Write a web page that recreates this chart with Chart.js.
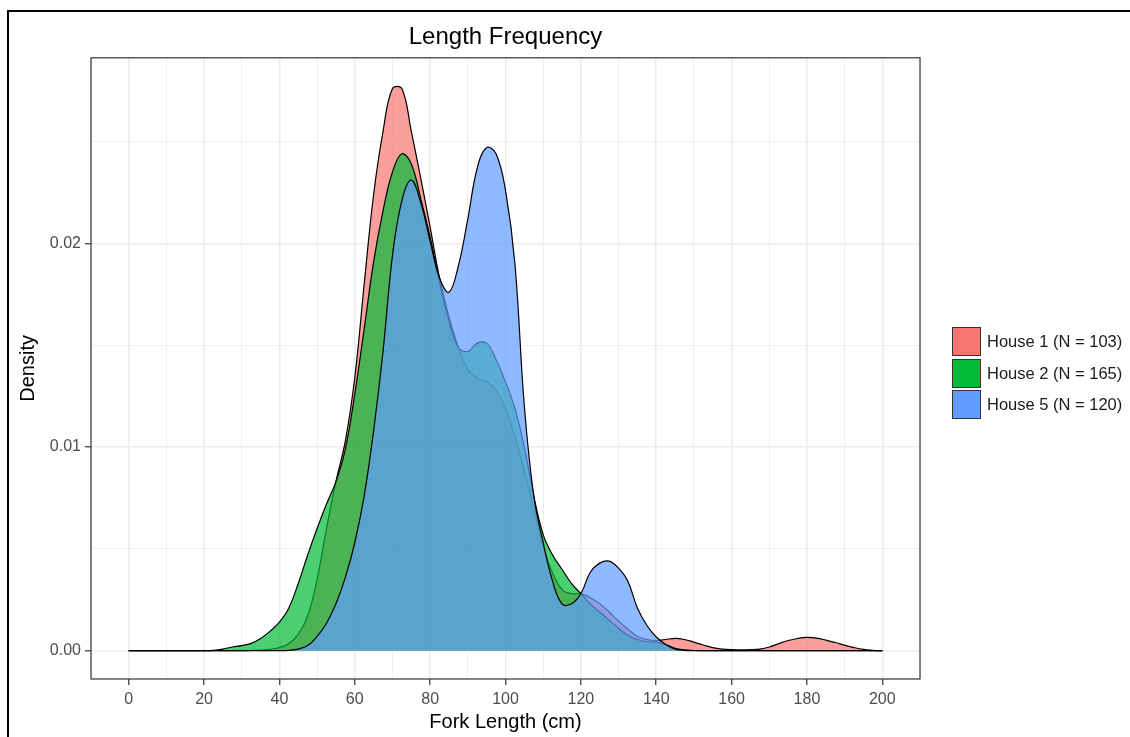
<!DOCTYPE html>
<html lang="en">
  <head>
    <meta charset="UTF-8">
    <title>Length Frequency</title>
    <style>
      html, body {
        margin: 0;
        padding: 0;
        background: #fff;
        overflow: hidden;
      }
      #frame {
        position: absolute;
        left: 7px;
        top: 10px;
        width: 1200px;
        height: 800px;
        border-left: 2px solid #000;
        border-top: 2px solid #000;
      }
      #myChart {
        position: absolute;
        left: 0;
        top: 0;
      }
      #legend {
        position: absolute;
        left: 952px;
        top: 327px;
        font-family: "Liberation Sans", Arial, sans-serif;
        font-size: 16.5px;
        color: #1a1a1a;
      }
      .item {
        display: flex;
        align-items: center;
        height: 29px;
        margin-bottom: 2.5px;
      }
      .key {
        width: 29px;
        height: 29px;
        box-sizing: border-box;
        border: 1.3px solid #333;
        margin-right: 6px;
      }
    </style>
  </head>
  <body>
    <div id="frame"></div>
    <canvas id="myChart" width="1130" height="737"></canvas>
    <div id="legend"></div>

    <script src="https://cdn.jsdelivr.net/npm/chart.js"></script>
    <script>
      // fork length (cm) where the density curves were read
      const forkLength = [0, 10, 20, 22.5, 25, 27.5, 30, 32.5, 35, 37.5, 40, 42.5, 45, 47.5, 50, 52.5, 55, 57.5,
        60, 62.5, 65, 67.5, 70, 72.5, 75, 77.5, 80, 82.5, 85, 87.5, 90, 92.5, 95, 97.5, 100, 102.5, 105, 107.5,
        110, 112.5, 115, 117.5, 120, 122.5, 125, 127.5, 130, 132.5, 135, 137.5, 140, 142.5, 145, 147.5, 150,
        152.5, 155, 157.5, 160, 162.5, 165, 167.5, 170, 172.5, 175, 177.5, 180, 182.5, 185, 187.5, 190, 192.5,
        195, 197.5, 200];

      const house1 = [0, 0, 0, 0, 0, 0, 0, 0.00001, 0.00003, 0.00007, 0.00015, 0.00035, 0.0008, 0.0017, 0.0035,
        0.006, 0.0083, 0.0103, 0.0134, 0.018, 0.0224, 0.0255, 0.0276, 0.0276, 0.0255, 0.0232, 0.0208, 0.0183,
        0.0164, 0.0149, 0.0138, 0.0134, 0.0132, 0.0128, 0.0119, 0.0105, 0.0088, 0.007, 0.0051, 0.0038, 0.003,
        0.0028, 0.0028, 0.0026, 0.0023, 0.0019, 0.00145, 0.00105, 0.0007, 0.00055, 0.0005, 0.00055, 0.0006,
        0.00055, 0.00042, 0.00028, 0.00015, 0.00008, 0.00005, 0.00004, 0.00005, 0.00008, 0.00018, 0.00035,
        0.0005, 0.0006, 0.00065, 0.00062, 0.00052, 0.0004, 0.00027, 0.00015, 0.00006, 0.00002, 0];

      const house2 = [0, 0, 0, 0.00002, 0.00008, 0.00018, 0.00025, 0.00036, 0.0006, 0.00095, 0.0014, 0.0021,
        0.0033, 0.0047, 0.006, 0.0072, 0.0083, 0.0099, 0.0126, 0.0158, 0.0191, 0.0216, 0.0235, 0.0244, 0.0239,
        0.0222, 0.0203, 0.0181, 0.0162, 0.0149, 0.0147, 0.0151, 0.0151, 0.0143, 0.0132, 0.0119, 0.01, 0.0076,
        0.0057, 0.0047, 0.004, 0.0033, 0.0028, 0.0023, 0.0019, 0.0015, 0.0011, 0.00075, 0.00055, 0.00045,
        0.00042, 0.0003, 0.00012, 0.00004, 0.00001, 0, 0, 0, 0, 0, 0, 0, 0, 0, 0, 0, 0, 0, 0, 0, 0, 0, 0, 0, 0];

      const house5 = [0, 0, 0, 0, 0, 0, 0, 0, 0, 0, 0, 0.00002, 0.00008, 0.00025, 0.0007, 0.00135, 0.0023,
        0.0036, 0.0053, 0.0076, 0.0108, 0.0147, 0.0194, 0.0221, 0.0231, 0.022, 0.0201, 0.0183, 0.0176, 0.0189,
        0.0212, 0.0237, 0.0247, 0.0244, 0.0226, 0.019, 0.012, 0.0076, 0.0053, 0.0034, 0.0023, 0.0023, 0.0028,
        0.00385, 0.0043, 0.0044, 0.00405, 0.0034, 0.0021, 0.00125, 0.00067, 0.0003, 0.00008, 0.00002, 0, 0, 0,
        0, 0, 0, 0, 0, 0, 0, 0, 0, 0, 0, 0, 0, 0, 0, 0, 0, 0];

      const seriesNames = ["House 1 (N = 103)", "House 2 (N = 165)", "House 5 (N = 120)"];
      const seriesColors = ["#F8766D", "#00BA38", "#619CFF"];
      const seriesFills = ["rgba(248, 118, 109, 0.7)", "rgba(0, 186, 56, 0.7)", "rgba(97, 156, 255, 0.7)"];
      const xTicks = [0, 20, 40, 60, 80, 100, 120, 140, 160, 180, 200];
      const yTicks = [0, 0.01, 0.02];

      const FONT = "'Liberation Sans', Arial, sans-serif";

      function toPoints(values) {
        return values.map((v, i) => ({ x: forkLength[i], y: v }));
      }

      function isMajorX(v) {
        return xTicks.includes(Math.round(v * 1000) / 1000);
      }
      function isMajorY(v) {
        return yTicks.some(t => Math.abs(t - v) < 1e-9);
      }

      const panelBorder = {
        id: "panelBorder",
        afterDatasetsDraw(chart) {
          const { ctx, chartArea: a } = chart;
          ctx.save();
          ctx.strokeStyle = "#333333";
          ctx.lineWidth = 1.2;
          ctx.strokeRect(a.left, a.top, a.right - a.left, a.bottom - a.top);
          ctx.restore();
        }
      };

      const allSeries = [house1, house2, house5];
      const datasets = allSeries.map((values, i) => ({
        label: seriesNames[i],
        data: toPoints(values),
        borderColor: "#000",
        borderWidth: 1.2,
        backgroundColor: seriesFills[i],
        fill: "origin",
        pointRadius: 0,
        tension: 0.4,
        order: 3 - i
      }));

      const ctx = document.getElementById("myChart").getContext("2d");
      const chart = new Chart(ctx, {
        type: "line",
        data: { datasets: datasets },
        plugins: [panelBorder],
        options: {
          responsive: false,
          animation: false,
          layout: {
            padding: { left: 10, right: 210, top: 0, bottom: 0 }
          },
          plugins: {
            legend: { display: false },
            tooltip: { enabled: false },
            title: {
              display: true,
              fullSize: false,
              text: "Length Frequency",
              color: "#000",
              font: { family: FONT, size: 24, weight: "normal" },
              padding: { top: 23, bottom: 6 }
            }
          },
          scales: {
            x: {
              type: "linear",
              min: -10,
              max: 210,
              afterFit: s => { s.height = 58; },
              border: { display: false },
              grid: {
                color: "#ebebeb",
                lineWidth: c => (isMajorX(c.tick.value) ? 1.5 : 0.8),
                tickLength: 6,
                tickWidth: 1.2,
                tickColor: c => (isMajorX(c.tick.value) ? "#333333" : "rgba(0,0,0,0)")
              },
              ticks: {
                stepSize: 10,
                autoSkip: false,
                maxRotation: 0,
                includeBounds: false,
                padding: 5,
                color: "#4d4d4d",
                font: { family: FONT, size: 16 },
                callback: v => (isMajorX(v) ? String(v) : "")
              },
              title: {
                display: true,
                text: "Fork Length (cm)",
                color: "#000",
                font: { family: FONT, size: 20 },
                padding: { top: 0, bottom: 3 }
              }
            },
            y: {
              type: "linear",
              min: -0.00139,
              max: 0.02911,
              afterFit: s => { s.width = 81; },
              border: { display: false },
              grid: {
                color: "#ebebeb",
                lineWidth: c => (isMajorY(c.tick.value) ? 1.5 : 0.8),
                tickLength: 6,
                tickWidth: 1.2,
                tickColor: c => (isMajorY(c.tick.value) ? "#333333" : "rgba(0,0,0,0)")
              },
              ticks: {
                stepSize: 0.005,
                autoSkip: false,
                includeBounds: false,
                padding: 4,
                color: "#4d4d4d",
                font: { family: FONT, size: 16 },
                callback: v => (isMajorY(v) ? v.toFixed(2) : "")
              },
              title: {
                display: true,
                text: "Density",
                color: "#000",
                font: { family: FONT, size: 20 },
                padding: { top: 6.5, bottom: 0 }
              }
            }
          }
        }
      });

      // legend drawn as html, same order as the datasets
      const legendEl = document.getElementById("legend");
      seriesNames.forEach((name, i) => {
        const item = document.createElement("div");
        item.className = "item";
        const key = document.createElement("div");
        key.className = "key";
        key.style.background = seriesColors[i];
        const text = document.createElement("span");
        text.textContent = name;
        item.appendChild(key);
        item.appendChild(text);
        legendEl.appendChild(item);
      });
    </script>
  </body>
</html>
